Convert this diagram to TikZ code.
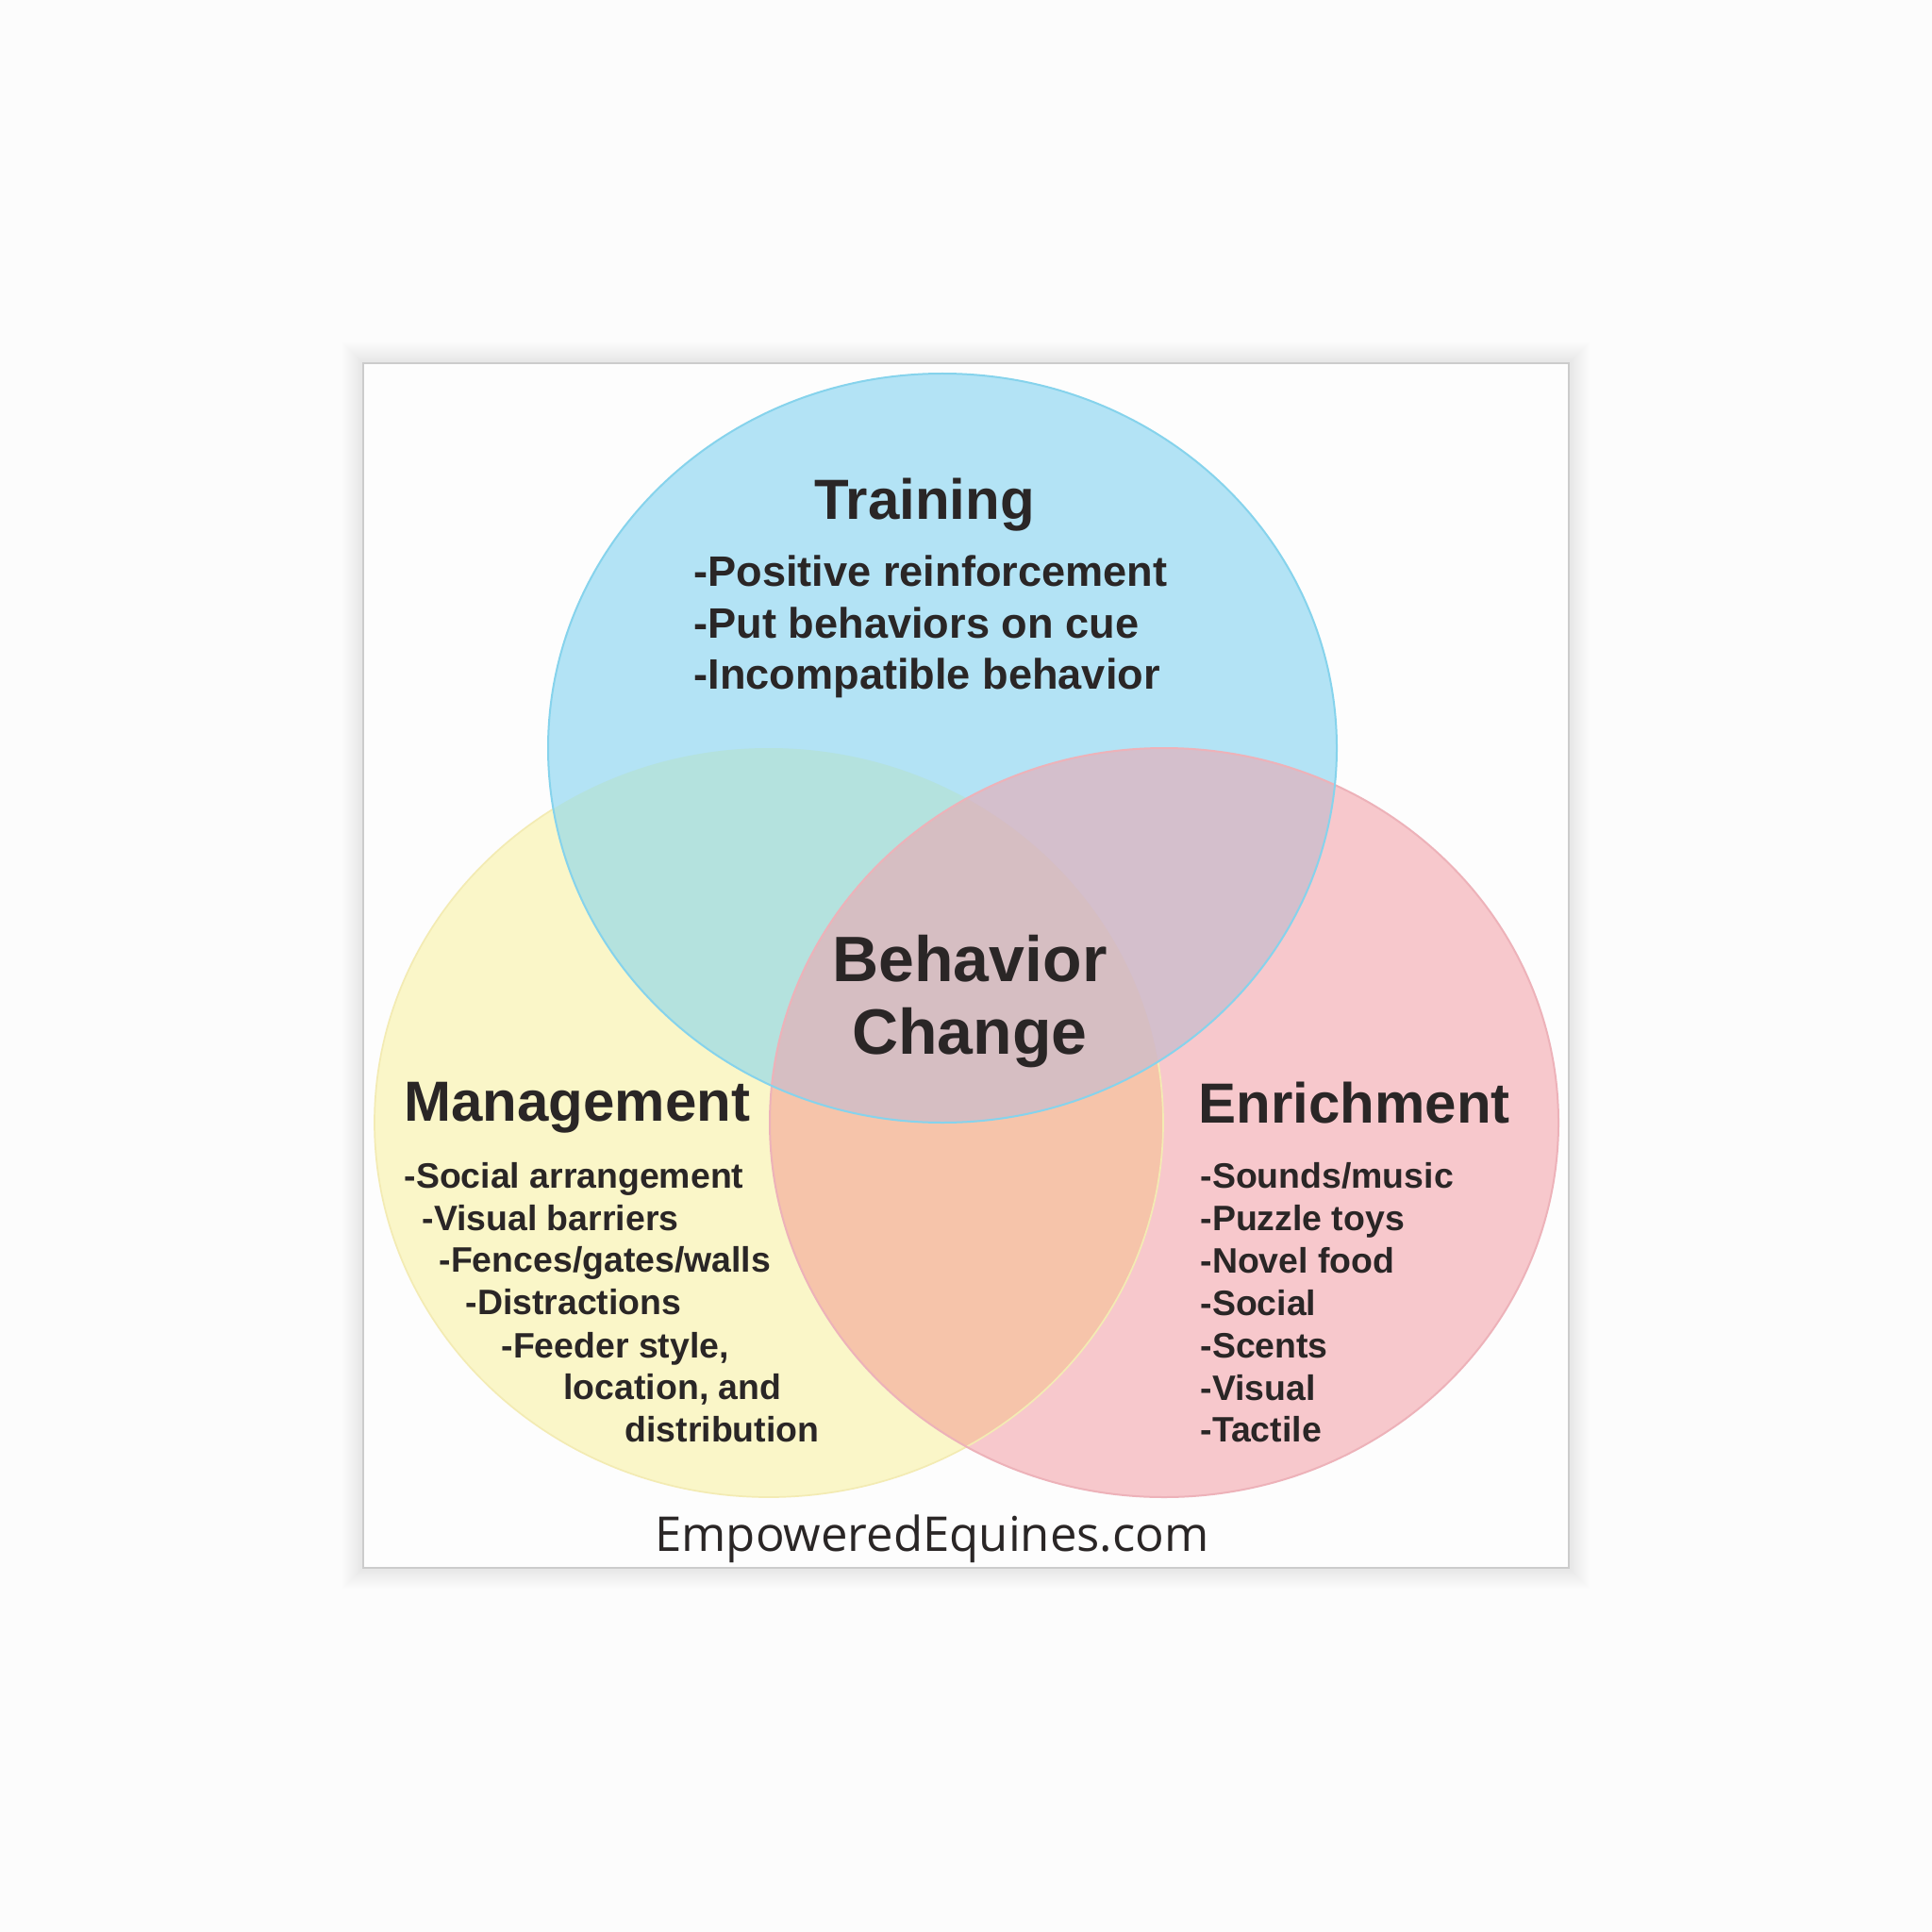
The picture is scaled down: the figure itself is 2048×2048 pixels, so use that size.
\documentclass[tikz,border=0pt]{standalone}
\usepackage{fontspec}
\setmainfont{Liberation Sans}
\newfontfamily\footfont{Open Sans}
\begin{document}
\begin{tikzpicture}[x=0.35pt,y=-0.35pt,
  txt/.style={inner sep=0pt, text=textdark, font=\bfseries},
  bigtitle/.style={txt, font=\bfseries\fontsize{21}{25}\selectfont},
  trainitem/.style={txt, anchor=base west, font=\bfseries\fontsize{15.8}{19}\selectfont},
  item/.style={txt, anchor=base west, font=\bfseries\fontsize{13.1}{16}\selectfont},
]
\definecolor{textdark}{HTML}{2A2626}
\definecolor{bg}{HTML}{FCFCFC}
\definecolor{cardc}{HTML}{FDFDFD}
\definecolor{blu}{HTML}{B3E3F5}
\definecolor{bluline}{HTML}{86D3EC}
\definecolor{yel}{HTML}{FAF6C8}
\definecolor{yelline}{HTML}{F3EBB3}
\definecolor{pnk}{HTML}{F7C8CC}
\definecolor{pnkline}{HTML}{EDB2B9}
\definecolor{yp}{HTML}{F6C4AA}
\definecolor{by}{HTML}{B4E2DE}
\definecolor{bp}{HTML}{D4BFCC}
\definecolor{byp}{HTML}{D6BEC2}
\useasboundingbox (0,0) rectangle (2048,2048);
\fill[bg] (0,0) rectangle (2048,2048);
% soft card shadow
\foreach \i in {1,...,22}{
  \fill[black,opacity=0.0035] (385-\i,385-\i) rectangle (1663+\i,1662+\i);
}
\fill[cardc] (385,385) rectangle (1663,1662);
\draw[line width=0.5pt,color=black!20] (385,385) rectangle (1663,1662);
% coordinates of circle centres
\coordinate (cB) at (999,793);
\coordinate (cY) at (815,1190);
\coordinate (cP) at (1234,1190);
% base fills
\fill[yel] (cY) ellipse [x radius=418, y radius=397];
\fill[pnk] (cP) ellipse [x radius=418, y radius=397];
\begin{scope}
  \clip (cY) ellipse [x radius=418, y radius=397];
  \fill[yp] (cP) ellipse [x radius=418, y radius=397];
\end{scope}
\draw[yelline, line width=0.6pt] (cY) ellipse [x radius=418, y radius=397];
\fill[blu] (cB) ellipse [x radius=418, y radius=397];
\begin{scope}
  \clip (cB) ellipse [x radius=418, y radius=397];
  \fill[by] (cY) ellipse [x radius=418, y radius=397];
  \fill[bp] (cP) ellipse [x radius=418, y radius=397];
  \clip (cY) ellipse [x radius=418, y radius=397];
  \fill[byp] (cP) ellipse [x radius=418, y radius=397];
\end{scope}
% outlines
\draw[pnkline, line width=0.7pt] (cP) ellipse [x radius=418, y radius=397];
\draw[bluline, line width=0.7pt] (cB) ellipse [x radius=418, y radius=397];
% Training
\node (trtitle) [bigtitle, anchor=base] at (980,551) {Training};
\node (tr1) [trainitem] at (735,622) {-Positive reinforcement};
\node (tr2) [trainitem] at (735,676) {-Put behaviors on cue};
\node (tr3) [trainitem] at (735,730) {-Incompatible behavior};
% Behavior change
\node (bc1) [txt, anchor=base, font=\bfseries\fontsize{23.8}{28}\selectfont] at (1028,1040) {Behavior};
\node (bc2) [txt, anchor=base, font=\bfseries\fontsize{23.8}{28}\selectfont] at (1028,1117) {Change};
% Management
\node (mgtitle) [bigtitle, anchor=base west] at (428,1188) {Management};
\node (mg1) [item] at (428,1259) {-Social arrangement};
\node (mg2) [item] at (447,1304) {-Visual barriers};
\node (mg3) [item] at (465,1348) {-Fences/gates/walls};
\node (mg4) [item] at (493,1393) {-Distractions};
\node (mg5) [item] at (531,1439) {-Feeder style,};
\node (mg6) [item] at (597,1483) {location, and};
\node (mg7) [item] at (662,1528) {distribution};
% Enrichment
\node (entitle) [bigtitle, anchor=base west] at (1270,1190) {Enrichment};
\node (en1) [item] at (1272,1259) {-Sounds/music};
\node (en2) [item] at (1272,1304) {-Puzzle toys};
\node (en3) [item] at (1272,1349) {-Novel food};
\node (en4) [item] at (1272,1394) {-Social};
\node (en5) [item] at (1272,1439) {-Scents};
\node (en6) [item] at (1272,1484) {-Visual};
\node (en7) [item] at (1272,1528) {-Tactile};
% footer
\node (foot) [inner sep=0pt, anchor=base, text=textdark, font=\footfont\fontsize{17.8}{20}\selectfont] at (988,1644) {EmpoweredEquines.com};
\end{tikzpicture}
\end{document}
